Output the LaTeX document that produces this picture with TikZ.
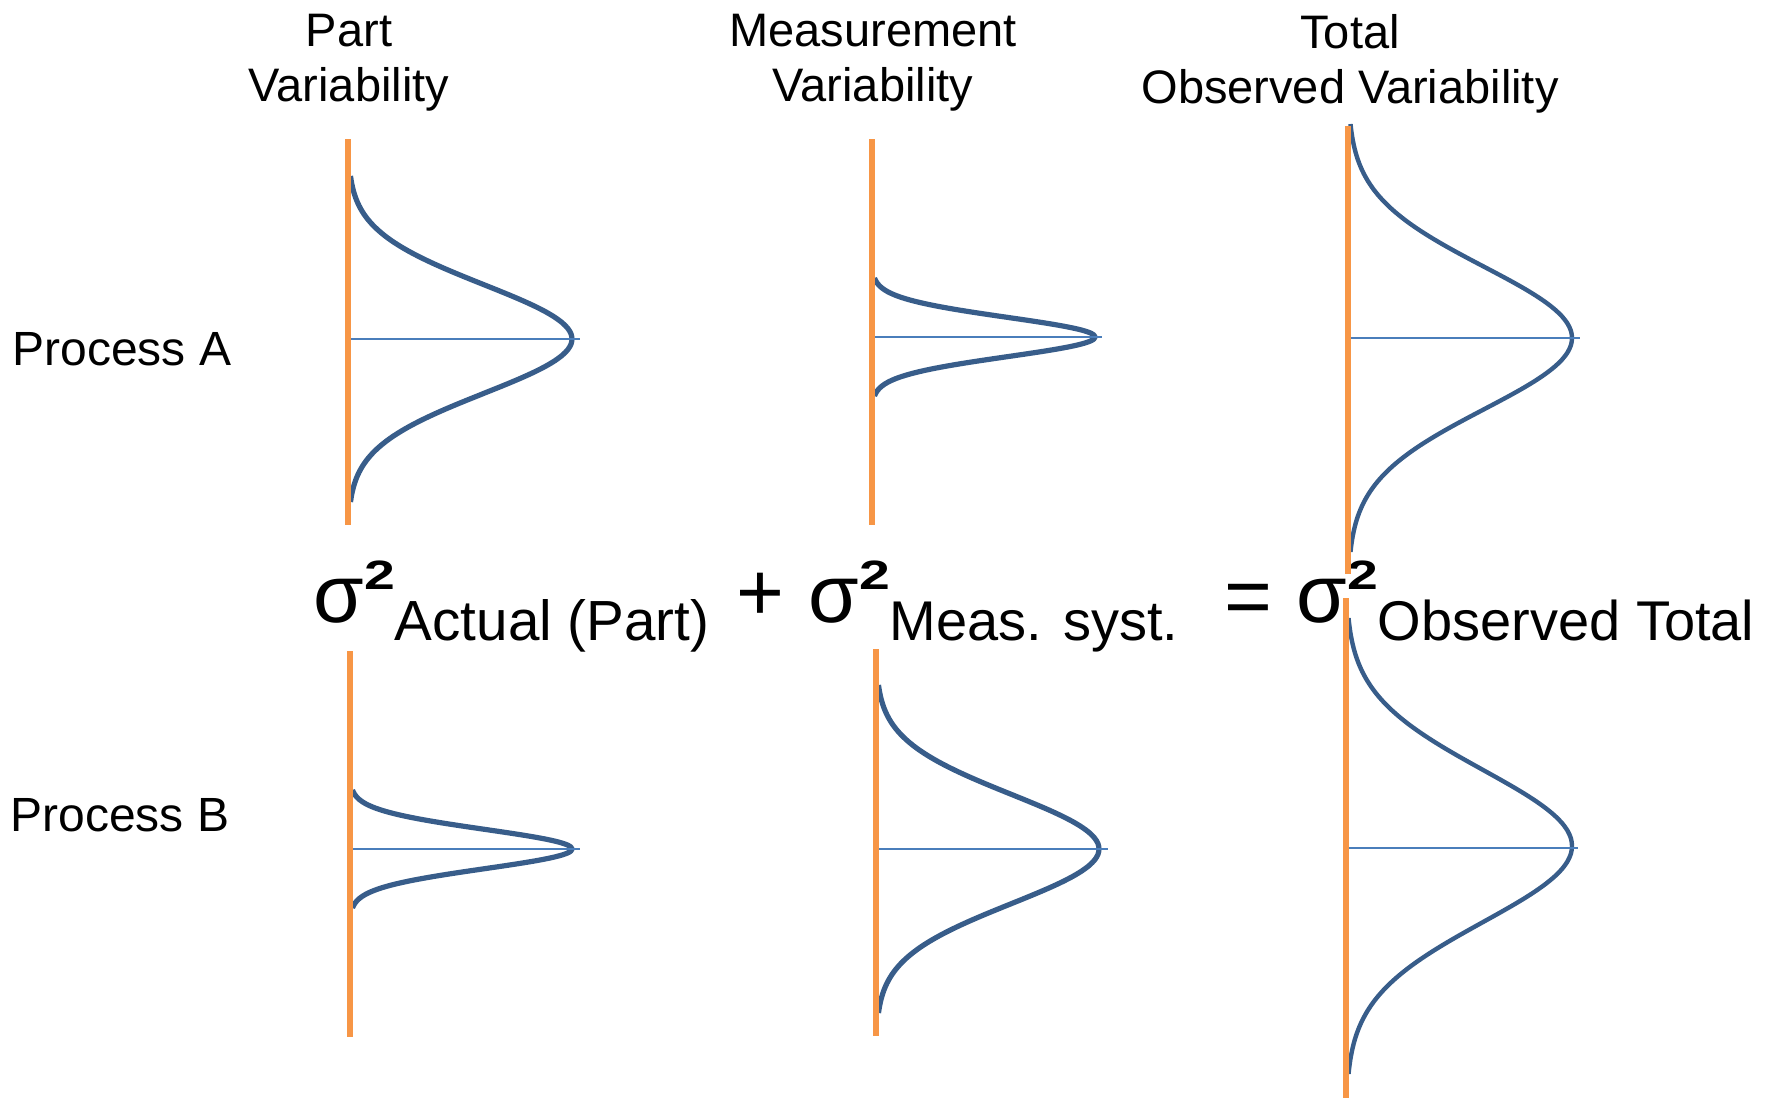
\documentclass[tikz,border=0pt]{standalone}
\usepackage{fontspec}
\setmainfont{Liberation Sans}
\usepackage{graphicx}
\usetikzlibrary{positioning}
\definecolor{axisorange}{HTML}{F79646}
\definecolor{bellblue}{HTML}{385D8A}
\definecolor{midblue}{HTML}{4A7EBB}
\newcommand{\sqtwo}{\raisebox{16.5pt}{\scalebox{1.35}[1]{\fontsize{20.5}{20.5}\selectfont\bfseries 2}}}

\begin{document}
\begin{tikzpicture}[x=0.5pt,y=-0.5pt,
  axis/.style={draw=axisorange,line width=3pt},
  bell/.style={draw=bellblue,line width=2.6pt,line join=round},
  bellthin/.style={bell,line width=2.2pt},
  mid/.style={draw=midblue,line width=1pt},
  head/.style={align=center,inner sep=0pt,anchor=north,font=\fontsize{23.5}{27.5}\selectfont},
  row/.style={inner sep=0pt,anchor=base west,font=\fontsize{24}{28}\selectfont},
  term/.style={inner sep=0pt,anchor=base west,font=\fontsize{41}{41}\selectfont}]
\useasboundingbox (0,0) rectangle (1775,1098);

% column heads and row labels
\node[head] (hpart) at (349,14) {Part\\Variability};
\node[head] (hmeas) at (873,14) {Measurement\\Variability};
\node[head] (htot) at (1350,14) {Total\\Observed Variability};
\node[row] (pa) at (12,365) {Process A};
\node[row] (pb) at (10,831) {Process B};

% the variance sum
\node[term] (sa) at (313,622) {σ\sqtwo\raisebox{-9pt}{\fontsize{28.3}{28.3}\selectfont Actual (Part)}};
\node[term] (plus) at (736,620) {+};
\node[term] (sm) at (808,622) {σ\sqtwo\raisebox{-9pt}{\fontsize{28}{28}\selectfont Meas. syst.}};
\node[term] (eq) at (1224,624) {=};
\node[term] (st) at (1296,622) {σ\sqtwo\raisebox{-9pt}{\fontsize{28}{28}\selectfont Observed Total}};

% process A
\draw[bell] plot[domain=-3:3,samples=61,smooth] ({348+224*exp(-\x*\x/2)},{339+\x*163/3});
\draw[mid] (348,339) -- (580,339);
\draw[axis] (348,139) -- (348,525);
\draw[bell] plot[domain=-3:3,samples=61,smooth] ({872+223*exp(-\x*\x/2)},{337+\x*59/3});
\draw[mid] (872,337) -- (1102,337);
\draw[axis] (872,139) -- (872,525);
\draw[bellthin] plot[domain=-3:3,samples=61,smooth] ({1348+224*exp(-\x*\x/2)},{338+\x*214/3});
\draw[mid,line width=0.8pt] (1348,338) -- (1580,338);
\draw[axis] (1348,126) -- (1348,574);

% process B
\draw[bell] plot[domain=-3:3,samples=61,smooth] ({350+222*exp(-\x*\x/2)},{849+\x*59/3});
\draw[mid] (350,849) -- (580,849);
\draw[axis] (350,651) -- (350,1037);
\draw[bell] plot[domain=-3:3,samples=61,smooth] ({876+223*exp(-\x*\x/2)},{849+\x*164/3});
\draw[mid] (876,849) -- (1108,849);
\draw[axis] (876,649) -- (876,1036);
\draw[bellthin] plot[domain=-3:3,samples=61,smooth] ({1346+226*exp(-\x*\x/2)},{846+\x*228/3});
\draw[mid,line width=0.8pt] (1346,848) -- (1578,848);
\draw[axis] (1346,598) -- (1346,1098);
\end{tikzpicture}
\end{document}
